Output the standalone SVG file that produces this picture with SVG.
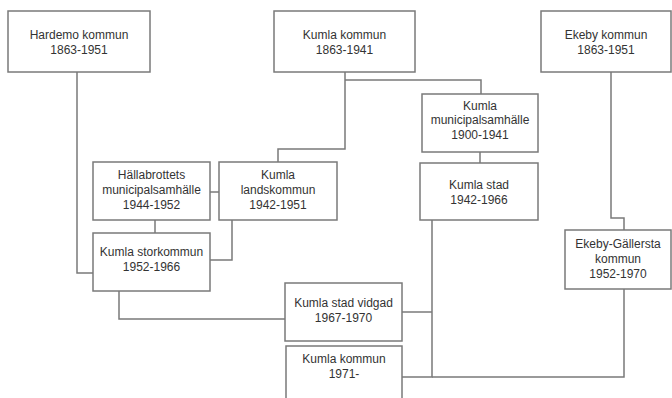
<svg xmlns="http://www.w3.org/2000/svg" width="672" height="398" viewBox="0 0 672 398">
<style>
.box{fill:#fff;stroke:#7a7a7a;stroke-width:1.5}
.ln{fill:none;stroke:#7a7a7a;stroke-width:1.5}
text{font-family:"Liberation Sans",Arial,sans-serif;font-size:12px;fill:#333;text-anchor:middle}
</style>
<rect width="672" height="398" fill="#fff"/>
<g id="connectors">
<path class="ln" d="M77,72 V273 H93"/>
<path class="ln" d="M345,72 V149 H278 V162"/>
<path class="ln" d="M345,80 H481 V94"/>
<path class="ln" d="M480,152 V163"/>
<path class="ln" d="M210,192 H219"/>
<path class="ln" d="M155,220 V233"/>
<path class="ln" d="M232,220 V260 H210"/>
<path class="ln" d="M119,291 V319 H285"/>
<path class="ln" d="M432,220 V377 H402"/>
<path class="ln" d="M402,312 H432"/>
<path class="ln" d="M611,72 V218 H624 V230"/>
<path class="ln" d="M624,289 V377 H432"/>
</g>
<g id="hardemo"><rect class="box" x="8" y="11" width="142" height="61"/><text x="79" y="39">Hardemo kommun</text><text x="79" y="54">1863-1951</text></g>
<g id="kumla-kommun"><rect class="box" x="274" y="11" width="141" height="61"/><text x="344.5" y="39">Kumla kommun</text><text x="344.5" y="54">1863-1941</text></g>
<g id="ekeby"><rect class="box" x="541" y="11" width="130" height="61"/><text x="606" y="39">Ekeby kommun</text><text x="606" y="54">1863-1951</text></g>
<g id="kumla-msh"><rect class="box" x="422" y="94" width="116" height="58"/><text x="480" y="110">Kumla</text><text x="480" y="124">municipalsamhälle</text><text x="480" y="139">1900-1941</text></g>
<g id="kumla-stad"><rect class="box" x="420" y="163" width="118" height="57"/><text x="479" y="189">Kumla stad</text><text x="479" y="204">1942-1966</text></g>
<g id="hallabrottets"><rect class="box" x="93" y="162" width="117" height="58"/><text x="151.5" y="179">Hällabrottets</text><text x="151.5" y="194">municipalsamhälle</text><text x="151.5" y="209">1944-1952</text></g>
<g id="landskommun"><rect class="box" x="219" y="162" width="118" height="58"/><text x="278" y="179">Kumla</text><text x="278" y="194">landskommun</text><text x="278" y="209">1942-1951</text></g>
<g id="storkommun"><rect class="box" x="93" y="233" width="117" height="58"/><text x="151.5" y="256">Kumla storkommun</text><text x="151.5" y="271">1952-1966</text></g>
<g id="vidgad"><rect class="box" x="285" y="283" width="117" height="58"/><text x="343.5" y="307">Kumla stad vidgad</text><text x="343.5" y="322">1967-1970</text></g>
<g id="kumla-1971"><rect class="box" x="286" y="346" width="116" height="60"/><text x="344" y="363">Kumla kommun</text><text x="344" y="378">1971-</text></g>
<g id="ekeby-gallersta"><rect class="box" x="565" y="230" width="106" height="59"/><text x="618" y="248">Ekeby-Gällersta</text><text x="618" y="263">kommun</text><text x="618" y="278">1952-1970</text></g>
</svg>
